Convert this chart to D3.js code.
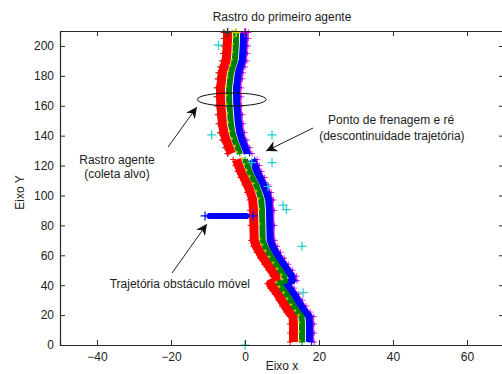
<!DOCTYPE html>
<html>
<head>
<meta charset="utf-8">
<script src="https://cdn.jsdelivr.net/npm/d3@7"></script>
<style>
  body { margin: 0; background: #fff; }
  text { font-family: "Liberation Sans", Arial, sans-serif; fill: #222; }
</style>
</head>
<body>
<div id="chart"></div>
<script>
// agent trail (centre line of the green band), before and after the braking point
const upperX = [-2.4, -2.4, -2.5, -2.6, -2.8, -3.3, -3.8, -4.0, -4.3, -4.3, -4.2, -4.0, -3.8, -3.4, -2.8, -2.0, -1.4];
const upperY = [209, 205, 200, 195, 190, 186, 182, 178, 172, 166, 160, 154, 148, 142, 137, 132, 128];
const lowerX = [0.0, 0.6, 1.2, 2.0, 3.0, 3.8, 4.4, 4.6, 4.7, 4.8, 5.4, 6.3, 7.3, 8.4, 9.5, 10.6, 10.8, 9.2, 10.0, 11.2, 12.2, 13.2, 14.3, 15.3, 15.4, 15.4, 15.4];
const lowerY = [124, 120, 116, 112, 107, 102, 97, 90, 80, 70, 66, 62, 58, 54, 50, 46, 43, 41, 38, 34, 30, 26, 22, 19, 14, 8, 2];

// targets (cyan crosses)
const targetX = [-7.2, -9.0, 7.3, 7.3, 1.8, 6.2, 10.3, 11.2, 15.4, 15.7, 0];
const targetY = [200.5, 140.5, 140.5, 122, 122, 106, 93.5, 90.5, 66, 35, 0];

// moving obstacle path
const obstacleX = [-10.8, -9.6, -7, -4.5, -2, 0.4, 2.2];
const obstacleY = [86.3, 86.3, 86.3, 86.3, 86.3, 86.3, 86.3];

const xTicks = [-40, -20, 0, 20, 40, 60];
const yTicks = [0, 20, 40, 60, 80, 100, 120, 140, 160, 180, 200];

const width = 502, height = 374;
const svg = d3.select('#chart').append('svg').attr('width', width).attr('height', height);

const x = d3.scaleLinear().domain([-50, 70]).range([60, 504]);
const y = d3.scaleLinear().domain([0, 210]).range([345, 31]);

const plus = 'M-4.5,0H4.5M0,-4.5V4.5';
const small = 'M-3,0H3M0,-3V3';
const upper = upperX.map((v, i) => ({ x: v, y: upperY[i] }));
const lower = lowerX.map((v, i) => ({ x: v, y: lowerY[i] }));

// bands: offset in data units, colour, stroke width, edge marker shift
const bands = [
  { off: 3.0, color: '#e020e0', w: 2, edge: 0.3 },
  { off: -3.1, color: '#555', w: 2, edge: -0.3, upperOnly: true },
  { off: -2.3, color: '#ff0000', w: 9, edge: -0.9 },
  { off: 2.0, color: '#0000ff', w: 7, edge: 0.6 },
  { off: 0, color: '#008000', w: 6, edge: 0 },
];

const plot = svg.append('g');

[upper, lower].forEach((seg, si) => {
  bands.forEach((b) => {
    if (b.upperOnly && si === 1) return;
    const line = d3.line().x((d) => x(d.x + b.off)).y((d) => y(d.y));
    plot.append('path')
      .attr('d', line(seg))
      .attr('fill', 'none')
      .attr('stroke', b.color)
      .attr('stroke-width', b.w)
      .attr('stroke-linejoin', 'round');
    // jagged marker edges
    plot.selectAll(null)
      .data(seg)
      .enter()
      .append('path')
      .attr('d', small)
      .attr('transform', (d) => `translate(${x(d.x + b.off + b.edge)},${y(d.y)})`)
      .attr('stroke', b.color)
      .attr('stroke-width', 1);
  });
  // yellow dots along the middle
  plot.selectAll(null)
    .data(seg)
    .enter()
    .append('path')
    .attr('d', 'M-1.5,0H1.5M0,-1.5V1.5')
    .attr('transform', (d) => `translate(${x(d.x - 0.8)},${y(d.y + 1)})`)
    .attr('stroke', '#c8c800')
    .attr('stroke-width', 1);
});

// front markers at the top of the trail
const front = upper[0];
[{ off: -2.3, c: '#333' }, { off: 0, c: '#c8c800' }, { off: 2.4, c: '#d000d0' }].forEach((m) => {
  plot.append('path')
    .attr('d', plus)
    .attr('transform', `translate(${x(front.x + m.off)},${y(front.y)})`)
    .attr('stroke', m.c)
    .attr('stroke-width', 1.5);
});

// obstacle trajectory
const obs = obstacleX.map((v, i) => ({ x: v, y: obstacleY[i] }));
const oline = d3.line().x((d) => x(d.x)).y((d) => y(d.y));
plot.append('path').attr('d', oline(obs)).attr('stroke', '#4040ff').attr('stroke-width', 1.5).attr('fill', 'none');
plot.append('path').attr('d', oline(obs.slice(1, 6))).attr('stroke', '#0000ff').attr('stroke-width', 6)
  .attr('stroke-linecap', 'round').attr('fill', 'none');
plot.selectAll(null)
  .data([obs[0], obs[obs.length - 1]])
  .enter()
  .append('path')
  .attr('d', plus)
  .attr('transform', (d) => `translate(${x(d.x)},${y(d.y)})`)
  .attr('stroke', '#0000ff')
  .attr('stroke-width', 1.2);

// targets
plot.selectAll(null)
  .data(targetX.map((v, i) => ({ x: v, y: targetY[i] })))
  .enter()
  .append('path')
  .attr('d', plus)
  .attr('transform', (d) => `translate(${x(d.x)},${y(d.y)})`)
  .attr('stroke', '#22cccc')
  .attr('stroke-width', 1.2);

// ellipse around the braking area
plot.append('ellipse')
  .attr('cx', x(-3.6)).attr('cy', y(164.2))
  .attr('rx', x(9.3) - x(0)).attr('ry', y(0) - y(4.35))
  .attr('fill', 'none').attr('stroke', '#111').attr('stroke-width', 1);

// axes with inward ticks on all four sides
const axisColor = '#2a2a2a';
const gx = svg.append('g').attr('transform', `translate(0,${y(0)})`)
  .call(d3.axisBottom(x).tickValues(xTicks).tickSize(-5).tickPadding(7));
const gxt = svg.append('g').attr('transform', `translate(0,${y(210)})`)
  .call(d3.axisTop(x).tickValues(xTicks).tickSize(-5).tickFormat(''));
const gy = svg.append('g').attr('transform', `translate(${x(-50)},0)`)
  .call(d3.axisLeft(y).tickValues(yTicks).tickSize(-5).tickPadding(6));
const gyr = svg.append('g').attr('transform', `translate(${x(70)},0)`)
  .call(d3.axisRight(y).tickValues(yTicks).tickSize(-5).tickFormat(''));
[gx, gxt, gy, gyr].forEach((g) => {
  g.select('.domain').attr('stroke', axisColor).attr('stroke-width', 1.2);
  g.selectAll('.tick line').attr('stroke', axisColor);
  g.selectAll('.tick text').attr('font-size', 12).attr('font-family', '"Liberation Sans", Arial, sans-serif').attr('fill', '#222');
});

// titles
svg.append('text').attr('x', (x(-50) + x(70)) / 2).attr('y', 21).attr('text-anchor', 'middle')
  .attr('font-size', 12).text('Rastro do primeiro agente');
svg.append('text').attr('x', (x(-50) + x(70)) / 2).attr('y', 370).attr('text-anchor', 'middle')
  .attr('font-size', 12).text('Eixo x');
svg.append('text').attr('transform', `translate(23.5,${y(102)}) rotate(-90)`).attr('text-anchor', 'middle')
  .attr('font-size', 12).text('Eixo Y');

// annotations
svg.append('defs').append('marker')
  .attr('id', 'head').attr('viewBox', '0 0 10 10').attr('refX', 10).attr('refY', 5)
  .attr('markerWidth', 11).attr('markerHeight', 11).attr('markerUnits', 'userSpaceOnUse')
  .attr('orient', 'auto')
  .append('path').attr('d', 'M0,0L10,5L0,10L3,5Z').attr('fill', '#111');

const arrows = [
  { x1: -20.8, y1: 132.4, x2: -13.0, y2: 159.2 },
  { x1: 18.4, y1: 145.1, x2: 5.7, y2: 129.7 },
  { x1: -19.7, y1: 48.2, x2: -10.3, y2: 80.9 },
];
arrows.forEach((a) => {
  svg.append('line')
    .attr('x1', x(a.x1)).attr('y1', y(a.y1)).attr('x2', x(a.x2)).attr('y2', y(a.y2))
    .attr('stroke', '#222').attr('stroke-width', 1).attr('marker-end', 'url(#head)');
});

const notes = [
  { x: -34.6, y: 121.1, t: 'Rastro agente' },
  { x: -34.6, y: 111.7, t: '(coleta alvo)' },
  { x: 39.5, y: 147.5, t: 'Ponto de frenagem e ré' },
  { x: 39.7, y: 137.4, t: '(descontinuidade trajetória)' },
  { x: -17.6, y: 38.1, t: 'Trajetória obstáculo móvel' },
];
notes.forEach((n) => {
  svg.append('text').attr('x', x(n.x)).attr('y', y(n.y)).attr('text-anchor', 'middle')
    .attr('font-size', 12).text(n.t);
});
</script>
</body>
</html>
